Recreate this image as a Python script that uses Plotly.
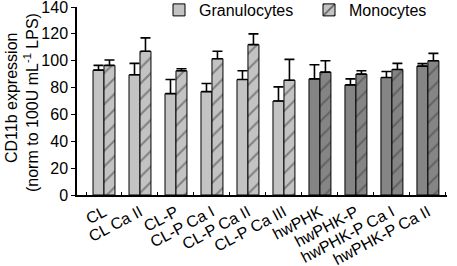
import plotly.graph_objects as go

categories = ["CL", "CL Ca II", "CL-P", "CL-P Ca I", "CL-P Ca II", "CL-P Ca III",
              "hwPHK", "hwPHK-P", "hwPHK-P Ca I", "hwPHK-P Ca II"]
granulocytes = [93, 89.5, 75.5, 77, 86, 70, 86.5, 82, 87.5, 96]
granulocytes_err = [3.5, 8.5, 10.5, 6, 6.5, 10.5, 10.5, 4.5, 4.5, 1.8]
monocytes = [96.5, 107, 92.5, 101.5, 112, 85.5, 91.5, 90, 93.5, 100]
monocytes_err = [4, 10, 1.5, 5.5, 8, 15.5, 8.5, 2.5, 4.5, 5.5]
y_title = ["CD11b expression", "(norm to 100U mL<sup>-1</sup> LPS)"]

light, dark = "#c3c3c3", "#858585"
colors = [light] * 6 + [dark] * 4

fig = go.Figure()
fig.add_trace(go.Bar(
    name="Granulocytes", x=categories, y=granulocytes, legend="legend",
    marker=dict(color=colors, line=dict(color="black", width=1)),
    error_y=dict(type="data", array=granulocytes_err, arrayminus=[0] * 10,
                 symmetric=False, color="black", thickness=1.6, width=5),
))
fig.add_trace(go.Bar(
    name="Monocytes", x=categories, y=monocytes, legend="legend2",
    marker=dict(color=colors, line=dict(color="black", width=1),
                pattern=dict(shape="/", fgcolor="black", bgcolor=colors,
                             size=11, solidity=0.2)),
    error_y=dict(type="data", array=monocytes_err, arrayminus=[0] * 10,
                 symmetric=False, color="black", thickness=1.6, width=5),
))

FS = 16
fam = "Liberation Sans, Arial, sans-serif"
font = dict(family=fam, size=FS, color="black")
PL, PW, PT, PH = 77, 370, 7, 188
leg = dict(orientation="h", y=(PT + PH - 10) / PH, xanchor="left", yanchor="middle",
           bgcolor="rgba(0,0,0,0)", font=dict(family=fam, size=FS))
fig.update_layout(
    width=457, height=266,
    margin=dict(l=PL, r=10, t=PT, b=71, autoexpand=False),
    paper_bgcolor="white", plot_bgcolor="white",
    font=font,
    barmode="group", bargap=0.39, bargroupgap=0,
    showlegend=True,
    legend=dict(leg, x=(159 - PL) / PW),
    legend2=dict(leg, x=(309 - PL) / PW),
    xaxis=dict(type="category", range=[-0.75, 9.53], tickson="boundaries",
               ticks="inside", ticklen=3, tickcolor="black", showline=True,
               linecolor="black", linewidth=1.5, tickangle=-28, automargin=False,
               ticklabeloverflow="allow",
               showgrid=False, zeroline=False, tickfont=dict(size=FS)),
    yaxis=dict(range=[0, 140], dtick=20, ticks="outside", ticklen=4,
               tickcolor="black", showline=True, linecolor="black", linewidth=1.5,
               showgrid=False, zeroline=False, tickfont=dict(size=FS), automargin=False,
               ticklabeloverflow="allow"),
)
for xpx, ypx, txt in zip([11, 31], [98, 103], y_title):
    fig.add_annotation(text=txt, xref="paper", yref="paper",
                       x=(xpx - PL) / PW, y=(PT + PH - ypx) / PH, textangle=-90,
                       showarrow=False, xanchor="center", yanchor="middle",
                       font=dict(size=FS))
fig.write_html("out.html", config={"displayModeBar": False},
               post_script="document.body.style.margin='0px';")
